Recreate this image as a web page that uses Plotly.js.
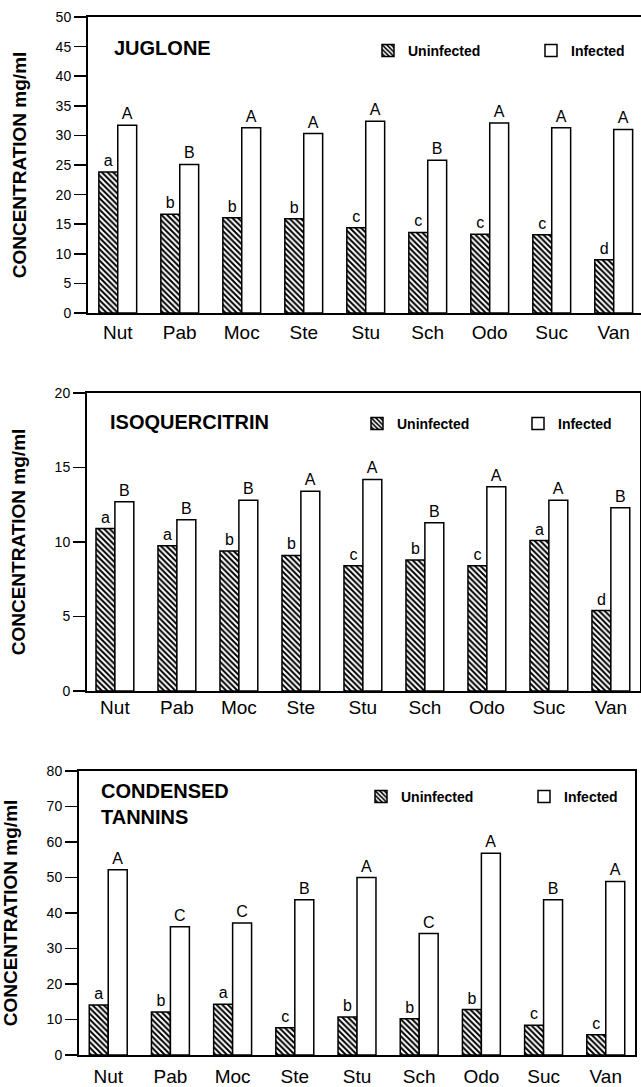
<!DOCTYPE html>
<html>
<head>
<meta charset="utf-8">
<script src="https://cdn.plot.ly/plotly-3.0.1.min.js"></script>
<style>html,body{margin:0;padding:0;background:#fff;overflow:hidden;}#chart{width:641px;height:1087px;}</style>
</head>
<body>
<div id="chart"></div>
<script>
// ---- data ----
var categories = ['Nut','Pab','Moc','Ste','Stu','Sch','Odo','Suc','Van'];

var juglone_uninfected = [23.8, 16.7, 16.1, 15.9, 14.4, 13.6, 13.3, 13.2, 9.0];
var juglone_infected   = [31.7, 25.1, 31.3, 30.3, 32.4, 25.8, 32.1, 31.3, 31.0];
var juglone_uninfected_letters = ['a','b','b','b','c','c','c','c','d'];
var juglone_infected_letters   = ['A','B','A','A','A','B','A','A','A'];

var isoquercitrin_uninfected = [10.9, 9.75, 9.4, 9.1, 8.4, 8.8, 8.4, 10.1, 5.4];
var isoquercitrin_infected   = [12.7, 11.5, 12.8, 13.4, 14.2, 11.3, 13.7, 12.8, 12.3];
var isoquercitrin_uninfected_letters = ['a','a','b','b','c','b','c','a','d'];
var isoquercitrin_infected_letters   = ['B','B','B','A','A','B','A','A','B'];

var tannins_uninfected = [14.1, 12.1, 14.3, 7.7, 10.7, 10.2, 12.8, 8.4, 5.7];
var tannins_infected   = [52.2, 36.1, 37.2, 43.7, 50.0, 34.2, 56.8, 43.7, 48.9];
var tannins_uninfected_letters = ['a','b','a','c','b','b','b','c','c'];
var tannins_infected_letters   = ['A','C','C','B','A','C','A','B','A'];

var panel_titles = ['JUGLONE', 'ISOQUERCITRIN', 'CONDENSED<br>TANNINS'];
var y_title = 'CONCENTRATION mg/ml';
var series_names = ['Uninfected', 'Infected'];

// ---- styles ----
var FONT = 'Liberation Sans, Arial, Helvetica, sans-serif';
var hatch = {shape: '\\', fgcolor: '#000', bgcolor: '#fff', size: 4, solidity: 0.5, fillmode: 'replace'};

function mkBar(vals, letters, name, idx, hatched) {
  var sfx = idx === 1 ? '' : String(idx);
  return {
    type: 'bar', x: categories, y: vals, name: name,
    xaxis: 'x' + sfx, yaxis: 'y' + sfx,
    legend: 'legend' + sfx,
    text: letters, textposition: 'outside', cliponaxis: false,
    constraintext: 'none',
    textfont: {family: FONT, size: 16, color: '#000'},
    marker: {
      color: '#fff',
      line: {color: '#000', width: 1.5},
      pattern: hatched ? hatch : {shape: ''}
    },
    hoverinfo: 'x+y'
  };
}

var data = [
  mkBar(juglone_uninfected, juglone_uninfected_letters, series_names[0], 1, true),
  mkBar(juglone_infected, juglone_infected_letters, series_names[1], 1, false),
  mkBar(isoquercitrin_uninfected, isoquercitrin_uninfected_letters, series_names[0], 2, true),
  mkBar(isoquercitrin_infected, isoquercitrin_infected_letters, series_names[1], 2, false),
  mkBar(tannins_uninfected, tannins_uninfected_letters, series_names[0], 3, true),
  mkBar(tannins_infected, tannins_infected_letters, series_names[1], 3, false)
];

function xax(dom, rng, standoff) {
  return {
    domain: dom, range: rng, type: 'category',
    showline: true, linecolor: '#000', linewidth: 2, mirror: true,
    ticks: '', showgrid: false, zeroline: false,
    tickfont: {family: FONT, size: 19, color: '#000'},
    ticklabelstandoff: standoff, fixedrange: true
  };
}
function yax(dom, rng, dtick) {
  return {
    domain: dom, range: rng, dtick: dtick,
    showline: true, linecolor: '#000', linewidth: 2, mirror: true,
    ticks: 'outside', ticklen: 12, tickwidth: 1.5, tickcolor: '#000',
    showgrid: false, zeroline: false,
    tickfont: {family: FONT, size: 14, color: '#000'},
    title: {text: y_title, font: {family: FONT, size: 19, color: '#000', weight: 'bold'}, standoff: 24},
    fixedrange: true
  };
}

var H = 1087, W = 641;
function py(top, bottom) { return [(H - bottom) / H, (H - top) / H]; }
function px(left, right) { return [left / W, right / W]; }

var xa1 = xax(px(88, 641), [-0.48, 8.44], 1); xa1.anchor = 'y';
var xa2 = xax(px(87, 640), [-0.45, 8.47], -2); xa2.anchor = 'y2';
var xa3 = xax(px(79, 635), [-0.47, 8.47], 3); xa3.anchor = 'y3';
var ya1 = yax(py(17, 313), [0, 50], 5); ya1.anchor = 'x';
var ya2 = yax(py(393, 691), [0, 20], 5); ya2.anchor = 'x2';
var ya3 = yax(py(771, 1055), [0, 80], 10); ya3.anchor = 'x3';

function leg(x, yc, ew) {
  return {
    orientation: 'h', x: x, y: yc, xanchor: 'left', yanchor: 'middle',
    font: {family: FONT, size: 14, color: '#000', weight: 'bold'},
    entrywidth: ew, entrywidthmode: 'pixels', traceorder: 'normal',
    bgcolor: 'rgba(0,0,0,0)', borderwidth: 0
  };
}

var layout = {
  width: W, height: H,
  margin: {l: 0, r: 0, t: 0, b: 0, autoexpand: false},
  paper_bgcolor: '#fff', plot_bgcolor: '#fff',
  barmode: 'group', bargap: 0.39, bargroupgap: 0,
  showlegend: true,
  xaxis: xa1, yaxis: ya1, xaxis2: xa2, yaxis2: ya2, xaxis3: xa3, yaxis3: ya3,
  legend: leg(368 / W, (H - 51) / H, 118),
  legend2: leg(357 / W, (H - 424) / H, 116),
  legend3: leg(361 / W, (H - 797) / H, 118),
  annotations: [
    {xref: 'paper', yref: 'paper', x: 112 / W, y: (H - 48) / H, xanchor: 'left', yanchor: 'middle',
     text: panel_titles[0], showarrow: false, align: 'left',
     font: {family: FONT, size: 20, color: '#000', weight: 'bold'}},
    {xref: 'paper', yref: 'paper', x: 108 / W, y: (H - 422) / H, xanchor: 'left', yanchor: 'middle',
     text: panel_titles[1], showarrow: false, align: 'left',
     font: {family: FONT, size: 20, color: '#000', weight: 'bold'}},
    {xref: 'paper', yref: 'paper', x: 99 / W, y: (H - 804) / H, xanchor: 'left', yanchor: 'middle',
     text: panel_titles[2], showarrow: false, align: 'left',
     font: {family: FONT, size: 20, color: '#000', weight: 'bold'}}
  ]
};

Plotly.newPlot('chart', data, layout, {displayModeBar: false, staticPlot: true});
</script>
</body>
</html>
